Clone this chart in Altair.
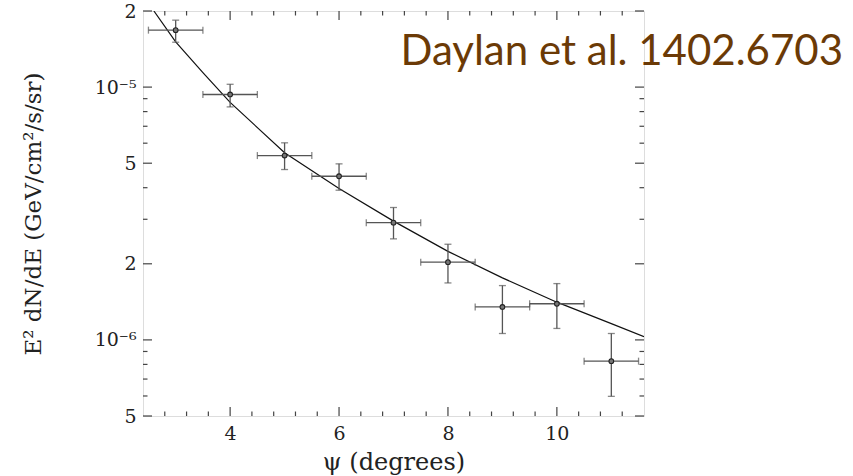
import altair as alt
import pandas as pd

# ---- data ----
psi = [3, 4, 5, 6, 7, 8, 9, 10, 11]
psi_lo = [2.5, 3.5, 4.5, 5.5, 6.5, 7.5, 8.5, 9.5, 10.5]
psi_hi = [3.5, 4.5, 5.5, 6.5, 7.5, 8.5, 9.5, 10.5, 11.5]
flux = [1.68e-5, 9.35e-6, 5.36e-6, 4.44e-6, 2.91e-6, 2.03e-6, 1.35e-6, 1.39e-6, 8.24e-7]
flux_hi = [1.84e-5, 1.026e-5, 6.02e-6, 4.97e-6, 3.34e-6, 2.39e-6, 1.64e-6, 1.67e-6, 1.06e-6]
flux_lo = [1.505e-5, 8.35e-6, 4.72e-6, 3.91e-6, 2.51e-6, 1.68e-6, 1.06e-6, 1.11e-6, 5.98e-7]

curve_psi = [2.6, 3.0, 3.5, 4.0, 5.0, 6.0, 7.0, 8.0, 9.0, 10.0, 11.0, 11.6]
curve_flux = [2.0e-5, 1.51e-5, 1.14e-5, 8.7e-6, 5.5e-6, 3.97e-6, 2.95e-6, 2.24e-6,
              1.76e-6, 1.41e-6, 1.16e-6, 1.03e-6]

x_major = [4, 6, 8, 10]
x_minor = [2.8, 3.2, 3.6, 4.4, 4.8, 5.2, 5.6, 6.4, 6.8, 7.2, 7.6, 8.4, 8.8, 9.2, 9.6,
           10.4, 10.8, 11.2]
y_major = [5e-7, 1e-6, 2e-6, 5e-6, 1e-5, 2e-5]
y_minor = [6e-7, 7e-7, 8e-7, 9e-7, 3e-6, 4e-6, 6e-6, 7e-6, 8e-6, 9e-6]

annotation = "Daylan et al. 1402.6703"

# ---- layout ----
W, H = 501, 405
MAJ, MIN = 9, 4.5
SERIF = "DejaVu Serif"
FRAME = "#444"

xs = alt.Scale(domain=[2.4, 11.6], nice=False, zero=False)
ys = alt.Scale(type="log", domain=[5e-7, 2e-5], nice=False)

pts = pd.DataFrame({"psi": psi, "psi_lo": psi_lo, "psi_hi": psi_hi,
                    "flux": flux, "flux_lo": flux_lo, "flux_hi": flux_hi})
crv = pd.DataFrame({"psi": curve_psi, "flux": curve_flux})

label_expr = ("datum.value > 1.5e-5 ? '2' : datum.value > 8e-6 ? '10⁻⁵' : "
              "datum.value > 4e-6 ? '5' : datum.value > 1.5e-6 ? '2' : "
              "datum.value > 8e-7 ? '10⁻⁶' : '5'")

AX_X = alt.Axis(
    values=x_major, title="ψ (degrees)", tickSize=0, domain=False, grid=False,
    labelFont=SERIF, labelFontSize=19, labelColor="#222", labelPadding=8,
    titleFont=SERIF, titleFontSize=24, titleFontWeight="normal", titleColor="#222",
    titleX=W / 2, titleY=46, titleBaseline="middle")
AX_Y = alt.Axis(
    values=y_major, labelExpr=label_expr, title="E² dN/dE (GeV/cm²/s/sr)",
    tickSize=0, domain=False, grid=False,
    labelFont=SERIF, labelFontSize=19, labelColor="#222", labelPadding=7,
    titleFont=SERIF, titleFontSize=23, titleFontWeight="normal", titleColor="#222",
    titleX=-110, titleY=H / 2, titleBaseline="middle", titleAngle=-90)


def X(f):
    return alt.X(f, scale=xs, axis=AX_X)


def Y(f):
    return alt.Y(f, scale=ys, axis=AX_Y)


line = alt.Chart(crv).mark_line(color="#111", strokeWidth=1.2, clip=True).encode(
    x=X("psi:Q"), y=Y("flux:Q"))

EB = "#555"
xerr = alt.Chart(pts).mark_rule(color=EB, strokeWidth=1.3).encode(
    x=X("psi_lo:Q"), x2="psi_hi:Q", y=Y("flux:Q"))
yerr = alt.Chart(pts).mark_rule(color=EB, strokeWidth=1.3).encode(
    x=X("psi:Q"), y=Y("flux_lo:Q"), y2="flux_hi:Q")
cap_xl = alt.Chart(pts).mark_tick(color=EB, orient="vertical", size=7, thickness=1.3).encode(
    x=X("psi_lo:Q"), y=Y("flux:Q"))
cap_xh = alt.Chart(pts).mark_tick(color=EB, orient="vertical", size=7, thickness=1.3).encode(
    x=X("psi_hi:Q"), y=Y("flux:Q"))
cap_yl = alt.Chart(pts).mark_tick(color=EB, orient="horizontal", size=7, thickness=1.3).encode(
    x=X("psi:Q"), y=Y("flux_lo:Q"))
cap_yh = alt.Chart(pts).mark_tick(color=EB, orient="horizontal", size=7, thickness=1.3).encode(
    x=X("psi:Q"), y=Y("flux_hi:Q"))
dots = alt.Chart(pts).mark_point(shape="circle", size=22, filled=True, color="#777",
                                 stroke="#222", strokeWidth=1.1, opacity=1).encode(
    x=X("psi:Q"), y=Y("flux:Q"))


def xticks(vals, length):
    d = pd.DataFrame({"v": vals})
    b = alt.Chart(d).mark_rule(color=FRAME, strokeWidth=1.2).encode(
        x=X("v:Q"), y=alt.value(H), y2=alt.value(H - length))
    t = alt.Chart(d).mark_rule(color=FRAME, strokeWidth=1.2).encode(
        x=X("v:Q"), y=alt.value(0), y2=alt.value(length))
    return [b, t]


def yticks(vals, length):
    d = pd.DataFrame({"v": vals})
    l = alt.Chart(d).mark_rule(color=FRAME, strokeWidth=1.2).encode(
        y=Y("v:Q"), x=alt.value(0), x2=alt.value(length))
    r = alt.Chart(d).mark_rule(color=FRAME, strokeWidth=1.2).encode(
        y=Y("v:Q"), x=alt.value(W), x2=alt.value(W - length))
    return [l, r]


ticks = xticks(x_major, MAJ) + xticks(x_minor, MIN) + yticks(y_major, MAJ) + yticks(y_minor, MIN)

note = alt.Chart(pd.DataFrame({"t": [annotation]})).mark_text(
    align="right", baseline="alphabetic", font="'Comic Sans MS', Lato", fontSize=42,
    color="#6B3A06").encode(text="t:N", x=alt.value(700), y=alt.value(54))

chart = alt.layer(line, xerr, yerr, cap_xl, cap_xh, cap_yl, cap_yh, dots, *ticks, note).properties(
    width=W, height=H, autosize="none",
    padding={"left": 143, "top": 11, "right": 853 - 143 - W, "bottom": 476 - 11 - H},
).configure_view(stroke=FRAME, strokeWidth=1.5).configure(background="white")

chart.save("out.html", embed_options={"renderer": "svg", "actions": False})
